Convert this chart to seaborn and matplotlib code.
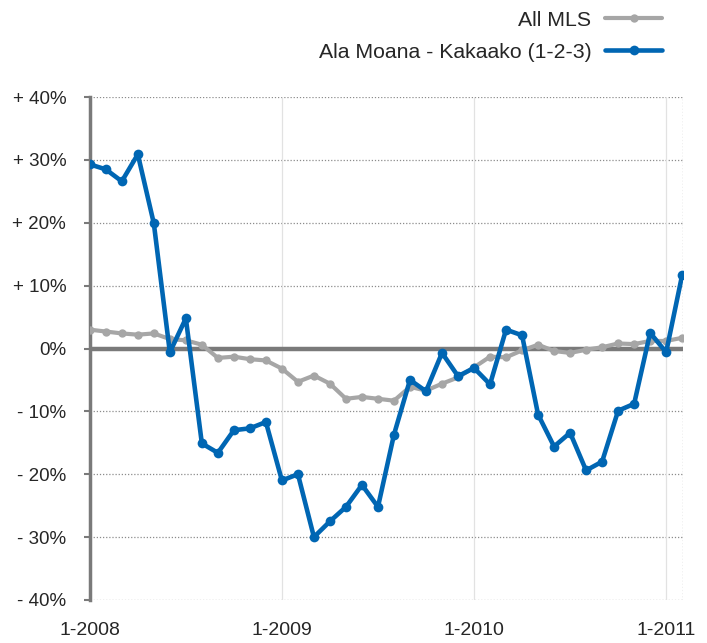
import matplotlib
matplotlib.use("Agg")
import matplotlib.pyplot as plt
import matplotlib.ticker as mticker
import seaborn as sns
import pandas as pd

# monthly values, Jan 2008 .. Feb 2011 (% change)
months = list(range(38))
all_mls = [3.0, 2.7, 2.4, 2.2, 2.4, 1.5, 1.3, 0.6, -1.5, -1.3,
           -1.7, -1.9, -3.2, -5.3, -4.3, -5.6, -8.0, -7.7, -8.0, -8.3,
           -6.1, -6.7, -5.6, -4.6, -3.0, -1.3, -1.4, -0.3, 0.6, -0.4,
           -0.7, -0.2, 0.2, 0.8, 0.7, 1.2, 1.2, 1.7]
ala_moana = [29.3, 28.5, 26.6, 30.9, 19.9, -0.6, 4.8, -15.1, -16.6, -13.0,
             -12.7, -11.7, -21.0, -20.0, -30.0, -27.5, -25.2, -21.7, -25.2, -13.7,
             -5.0, -6.8, -0.7, -4.4, -3.1, -5.7, 3.0, 2.1, -10.5, -15.6,
             -13.4, -19.4, -18.0, -9.9, -8.8, 2.5, -0.6, 11.7]
year_ticks = [0, 12, 24, 36]
year_labels = ["1-2008", "1-2009", "1-2010", "1-2011"]

sns.set_style("white")
plt.rcParams['font.family'] = ['Liberation Sans', 'DejaVu Sans']

df = pd.DataFrame({"month": months, "All MLS": all_mls,
                   "Ala Moana - Kakaako (1-2-3)": ala_moana})

fig = plt.figure(figsize=(7.07, 6.43), dpi=100)
ax = fig.add_axes([0.127, 0.067, 0.839, 0.782])

# grid
for v in range(-40, 41, 10):
    if v != 0:
        ax.axhline(v, color="#8c8c8c", lw=0.9, ls=(0, (1, 1.5)), zorder=1)
for t in year_ticks[1:]:
    ax.axvline(t, color="#e2e2e2", lw=0.9, zorder=1)
ax.axhline(0, color="#7a7a7a", lw=3.2, zorder=2)

sns.lineplot(data=df, x="month", y="All MLS", ax=ax, color="#a6a6a6",
             lw=3.0, marker="o", markersize=6, markeredgewidth=0,
             label="All MLS", zorder=3, legend=False)
sns.lineplot(data=df, x="month", y="Ala Moana - Kakaako (1-2-3)", ax=ax,
             color="#0066b3", lw=3.3, marker="o", markersize=7,
             markeredgewidth=0, label="Ala Moana - Kakaako (1-2-3)",
             zorder=4, legend=False)

ax.set_xlim(0, 37.05)
ax.set_ylim(-40, 40)
ax.set_xlabel("")
ax.set_ylabel("")
ax.set_xticks(year_ticks)
ax.set_xticklabels(year_labels, fontsize=14)
ax.set_yticks(range(-40, 41, 10))


def pct(v, pos):
    v = int(round(v))
    if v > 0:
        return "+ %d%%" % v
    if v < 0:
        return "- %d%%" % abs(v)
    return "0%"


ax.yaxis.set_major_formatter(mticker.FuncFormatter(pct))
ax.tick_params(axis="y", labelsize=13.5, length=4, width=1.5, color="#7a7a7a",
               pad=13, left=True)
ax.tick_params(axis="x", length=0, pad=16)

for s in ["top", "bottom", "right"]:
    ax.spines[s].set_visible(False)
ax.spines["left"].set_color("#7a7a7a")
ax.spines["left"].set_linewidth(2.5)
ax.axvline(37.05, color="#8c8c8c", lw=0.9, ls=(0, (1, 1.5)), zorder=1)

handles, labels = ax.get_legend_handles_labels()
fig.legend(handles, labels, loc="upper right", bbox_to_anchor=(0.937, 0.983),
           frameon=False, markerfirst=False, fontsize=15.3, handlelength=2.7,
           handletextpad=0.65, labelspacing=0.6, borderpad=0,
           borderaxespad=0)

fig.savefig("out.png", dpi=100)
